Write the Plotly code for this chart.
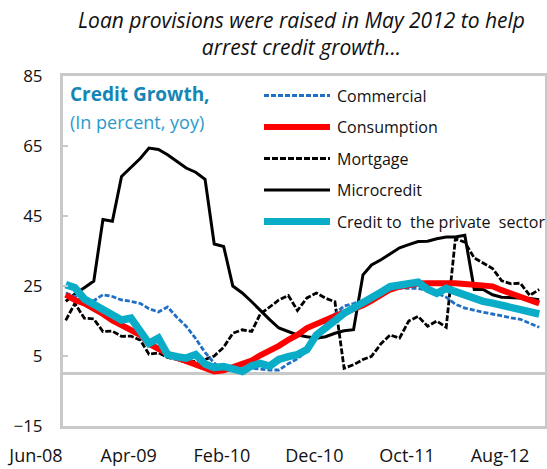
import pandas as pd
import plotly.graph_objects as go

# Monthly year-on-year credit growth, Jun-08 .. Sep-12 (percent)
months = pd.date_range("2008-06-01", periods=52, freq="MS") + pd.Timedelta(days=9)

commercial = [23, 22, 21, 20.8, 22.5, 22, 21, 20.6, 20, 18.5,
              17.6, 19, 16, 13.5, 10, 6, 3, 1, 1, 1.2,
              1.5, 1.2, 1, 1, 2.8, 4.2, 6.5, 10, 14.5, 17,
              19.3, 20, 20.8, 21.8, 23, 24.2, 24.4, 24.4, 24.3, 23.8,
              23, 21.8, 19.8, 18.7, 18, 17.5, 17, 16.4, 15.9, 15.5,
              14.3, 13.2]

consumption = [22.5, 21, 20, 18.7, 17, 15.2, 13.8, 12.5, 11, 8.5,
               6.8, 5.6, 4.5, 3.5, 2.6, 1.6, 0.6, 0.9, 1.7, 2.7,
               3.7, 5.2, 6.5, 7.9, 9.6, 11, 13, 14.3, 15.3, 16.4,
               17.4, 18.4, 19.5, 20.8, 22.4, 24, 24.8, 25.4, 25.7, 25.8,
               25.9, 25.9, 25.8, 25.6, 25.4, 25.3, 24.9, 23.8, 22.8, 22,
               21, 20]

mortgage = [15.2, 20, 15.8, 15.6, 12, 12.1, 10.6, 10.7, 9.5, 5.5,
            5.9, 4.6, 4, 3.2, 3.5, 4, 5, 7.5, 11.5, 12.5,
            12, 17, 19, 21, 22.3, 18, 21.6, 23, 21.5, 20.5,
            1.5, 2.5, 4, 4.9, 8.5, 11, 10.1, 15, 16.3, 13.5,
            15, 13.2, 38.5, 37.5, 33, 31.5, 30, 26.5, 25.6, 25.8,
            22.3, 24]

microcredit = [20.6, 22.7, 24.5, 26.4, 44, 43.5, 56.3, 59, 61.5, 64.4,
               64, 62.5, 60.5, 58.7, 57.5, 55.5, 37, 36.3, 25, 23,
               20.5, 18, 15.4, 13, 12, 11, 10.5, 10.1, 10.5, 11.5,
               12.2, 12.5, 28.2, 31, 32.5, 34.3, 35.9, 36.8, 37.7, 37.8,
               38.5, 39, 39, 39.5, 24, 24, 22.5, 21.8, 21.7, 21.6,
               21.4, 21.1]

private_sector = [25.4, 24.5, 21.3, 19.8, 18.8, 17, 15.3, 15.8, 12, 8.6,
                  10.1, 5.4, 4.8, 4.4, 5.4, 2.7, 1.7, 2, 1.3, 0.6,
                  2.2, 2.9, 2.1, 4, 4.8, 5.4, 6.8, 11, 13, 15.5,
                  17.2, 18.7, 20.1, 21.5, 23.2, 24.8, 25.2, 25.5, 26.1, 24.1,
                  22.9, 24.3, 23.3, 22.4, 21.4, 20.6, 20.1, 19.5, 19.1, 18.6,
                  17.8, 17]

tick_labels = ["Jun-08", "Apr-09", "Feb-10", "Dec-10", "Oct-11", "Aug-12"]
y_ticks = [-15, 5, 25, 45, 65, 85]

title_text = "Loan provisions were raised in May 2012 to help<br>arrest credit growth..."
panel_title = "Credit Growth,"
panel_subtitle = "(In percent, yoy)"

# name, values, colour, width, dash
series = [
    ("Commercial", commercial, "#1F6FC4", 2.8, "5px,2px"),
    ("Consumption", consumption, "#FF0000", 6, "solid"),
    ("Mortgage", mortgage, "#000000", 2.8, "6px,2px"),
    ("Microcredit", microcredit, "#000000", 3, "solid"),
    ("Credit to  the private  sector", private_sector, "#0AADC8", 7.5, "solid"),
]
draw_order = ["Microcredit", "Mortgage", "Commercial", "Consumption",
              "Credit to  the private  sector"]

FONT = "'Open Sans', Lato, sans-serif"
GRID = "#C9C9C9"
W, H = 547, 469
L, R, T, B = 63, 2, 76, 43

fig = go.Figure()
by_name = {s[0]: s for s in series}
for name in draw_order:
    _, vals, color, width, dash = by_name[name]
    fig.add_trace(go.Scatter(
        x=months, y=vals, mode="lines", name=name, showlegend=False,
        line=dict(color=color, width=width, dash=dash),
    ))

tick_dates = [pd.to_datetime(t, format="%b-%y") for t in tick_labels]
x_range = ["2008-06-01", "2012-09-29"]

# helpers for placing the hand-built legend and headings in pixel terms
pw, ph = W - L - R, H - T - B
def px_x(px):
    return (px - L) / pw
def px_y(py):
    return (H - B - py) / ph

shapes = []
annotations = []
leg_y0, leg_step = 95.5, 31.5
for k, (name, _, color, width, dash) in enumerate(series):
    yy = px_y(leg_y0 + k * leg_step)
    shapes.append(dict(type="line", xref="paper", yref="paper",
                       x0=px_x(264), x1=px_x(330), y0=yy, y1=yy,
                       line=dict(color=color, width=min(width, 7), dash=dash)))
    annotations.append(dict(xref="paper", yref="paper", x=px_x(335), y=yy,
                            xanchor="left", yanchor="middle", showarrow=False,
                            text=name, font=dict(family=FONT, size=16, color="#111")))

annotations.append(dict(xref="paper", yref="paper", x=px_x(68), y=px_y(94),
                        xanchor="left", yanchor="middle", showarrow=False,
                        text="<b>" + panel_title + "</b>",
                        font=dict(family=FONT, size=19, color="#1386B6")))
annotations.append(dict(xref="paper", yref="paper", x=px_x(68), y=px_y(122),
                        xanchor="left", yanchor="middle", showarrow=False,
                        text=panel_subtitle,
                        font=dict(family=FONT, size=18, color="#2A9ACB")))

# chart heading
annotations.append(dict(xref="paper", yref="paper", x=px_x(301), y=px_y(33.5),
                        xanchor="center", yanchor="middle", showarrow=False,
                        text="<i>" + title_text + "</i>",
                        font=dict(family=FONT, size=21, color="#111")))

fig.update_layout(
    width=W, height=H,
    margin=dict(l=L, r=R, t=T, b=B),
    paper_bgcolor="white", plot_bgcolor="white",
    showlegend=False,
    xaxis=dict(type="date", range=x_range, tickvals=tick_dates, ticktext=tick_labels,
               ticks="", showgrid=False, zeroline=False, automargin=False,
               showline=True, mirror=True, linecolor=GRID, linewidth=3,
               tickfont=dict(family=FONT, size=18, color="#111"),
               ticklabelshift=-27, ticklabelstandoff=11),
    xaxis2=dict(type="date", range=x_range, tickvals=tick_dates, overlaying="x",
                anchor="free", position=15 / 100, showticklabels=False,
                ticks="inside", ticklen=5, tickwidth=2, tickcolor=GRID,
                showgrid=False, zeroline=False, showline=False, automargin=False),
    yaxis=dict(range=[-15, 85], tickvals=y_ticks, ticks="inside", ticklen=5,
               tickwidth=2, tickcolor=GRID, showgrid=False, automargin=False,
               zeroline=True, zerolinecolor=GRID, zerolinewidth=3,
               showline=True, mirror=True, linecolor=GRID, linewidth=3,
               tickfont=dict(family=FONT, size=17, color="#111"),
               ticklabelstandoff=14),
    shapes=shapes,
    annotations=annotations,
)

fig.write_html("out.html")
